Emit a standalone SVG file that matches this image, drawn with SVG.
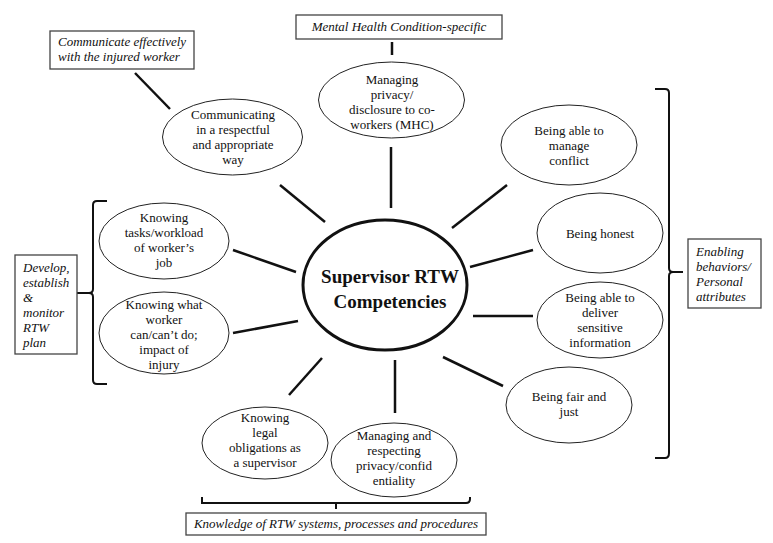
<svg xmlns="http://www.w3.org/2000/svg" width="773" height="543" viewBox="0 0 773 543">
<style>
.bg{fill:#fff}
.el{fill:#fff;stroke:#222;stroke-width:1}
.ctr{fill:#fff;stroke:#111;stroke-width:3}
.box{fill:#fff;stroke:#444;stroke-width:1.3}
.t{font-family:"Liberation Serif","Times New Roman",serif;font-size:13px;fill:#111;text-anchor:middle}
.i{font-family:"Liberation Serif","Times New Roman",serif;font-size:13px;font-style:italic;fill:#111}
.b{font-family:"Liberation Serif","Times New Roman",serif;font-size:19px;font-weight:bold;fill:#111;text-anchor:middle}
.ln{stroke:#111;stroke-width:2.5;fill:none}
.br{stroke:#111;stroke-width:2;fill:none}
</style>
<rect class="bg" width="773" height="543"/>
<g id="connectors">
<line class="ln" x1="392" y1="42" x2="392" y2="55"/>
<line class="ln" x1="391" y1="147" x2="391" y2="208"/>
<line class="ln" x1="135" y1="73" x2="170" y2="109"/>
<line class="ln" x1="280" y1="185" x2="325" y2="222"/>
<line class="ln" x1="507" y1="185" x2="452" y2="228"/>
<line class="ln" x1="470" y1="267" x2="533" y2="250"/>
<line class="ln" x1="473" y1="316" x2="533" y2="316"/>
<line class="ln" x1="443" y1="357" x2="503" y2="386"/>
<line class="ln" x1="233" y1="250" x2="296" y2="272"/>
<line class="ln" x1="233" y1="333" x2="298" y2="321"/>
<line class="ln" x1="289" y1="395" x2="322" y2="358"/>
<line class="ln" x1="395" y1="360" x2="395" y2="413"/>
<path class="br" d="M655,89 H665 Q669,89 669,93 V268 Q669,272 673,272 H683 M669,276 V453 Q669,458 665,458 H655 M673,272 Q669,272 669,276"/>
<path class="br" d="M107,201 H97 Q93,201 93,205 V289 Q93,293 89,293 H77 M93,297 V380 Q93,384 97,384 H107 M89,293 Q93,293 93,297"/>
<path class="br" d="M202,497 V503 H466 Q470,503 470,499 V497 M336,503 V509"/>
</g>
<g id="center">
<ellipse class="ctr" cx="385" cy="285" rx="82" ry="65"/>
<text class="b" x="390" y="283">Supervisor RTW</text>
<text class="b" x="390" y="308">Competencies</text>
</g>
<g id="box-mhc">
<rect class="box" x="296" y="15" width="206" height="24"/>
<text class="i" x="399" y="31" text-anchor="middle">Mental Health Condition-specific</text>
</g>
<g id="box-communicate">
<rect class="box" x="50" y="31" width="144" height="38"/>
<text class="i" x="58" y="46">Communicate effectively</text>
<text class="i" x="58" y="61">with the injured worker</text>
</g>
<g id="box-enabling">
<rect class="box" x="688" y="239" width="73" height="69"/>
<text class="i" x="696" y="256">Enabling</text>
<text class="i" x="696" y="271">behaviors/</text>
<text class="i" x="696" y="286">Personal</text>
<text class="i" x="696" y="301">attributes</text>
</g>
<g id="box-develop">
<rect class="box" x="15" y="255" width="62" height="99"/>
<text class="i" x="23" y="272">Develop,</text>
<text class="i" x="23" y="287">establish</text>
<text class="i" x="23" y="302">&amp;</text>
<text class="i" x="23" y="317">monitor</text>
<text class="i" x="23" y="332">RTW</text>
<text class="i" x="23" y="347">plan</text>
</g>
<g id="box-knowledge">
<rect class="box" x="186" y="513" width="300" height="22"/>
<text class="i" x="336" y="528" text-anchor="middle">Knowledge of RTW systems, processes and procedures</text>
</g>
<g id="node-mhc">
<ellipse class="el" cx="391.5" cy="100" rx="73" ry="38"/>
<text class="t" x="392" y="84">Managing</text>
<text class="t" x="392" y="99">privacy/</text>
<text class="t" x="392" y="114">disclosure to co-</text>
<text class="t" x="392" y="129">workers  (MHC)</text>
</g>
<g id="node-communicating">
<ellipse class="el" cx="232.5" cy="137" rx="70" ry="38"/>
<text class="t" x="233" y="119">Communicating</text>
<text class="t" x="233" y="134">in a respectful</text>
<text class="t" x="233" y="149">and appropriate</text>
<text class="t" x="233" y="164">way</text>
</g>
<g id="node-conflict">
<ellipse class="el" cx="569" cy="145" rx="68" ry="40"/>
<text class="t" x="569" y="135">Being able to</text>
<text class="t" x="569" y="150">manage</text>
<text class="t" x="569" y="165">conflict</text>
</g>
<g id="node-honest">
<ellipse class="el" cx="600" cy="233" rx="63" ry="40"/>
<text class="t" x="600" y="238">Being honest</text>
</g>
<g id="node-sensitive">
<ellipse class="el" cx="600" cy="320" rx="63" ry="38"/>
<text class="t" x="600" y="302">Being able to</text>
<text class="t" x="600" y="317">deliver</text>
<text class="t" x="600" y="332">sensitive</text>
<text class="t" x="600" y="347">information</text>
</g>
<g id="node-fair">
<ellipse class="el" cx="569" cy="405" rx="63" ry="38"/>
<text class="t" x="569" y="401">Being fair and</text>
<text class="t" x="569" y="416">just</text>
</g>
<g id="node-tasks">
<ellipse class="el" cx="164" cy="241" rx="65" ry="38"/>
<text class="t" x="164" y="222">Knowing</text>
<text class="t" x="164" y="237">tasks/workload</text>
<text class="t" x="164" y="252">of worker’s</text>
<text class="t" x="164" y="267">job</text>
</g>
<g id="node-cando">
<ellipse class="el" cx="164" cy="333" rx="65" ry="41"/>
<text class="t" x="164" y="309">Knowing what</text>
<text class="t" x="164" y="324">worker</text>
<text class="t" x="164" y="339">can/can’t do;</text>
<text class="t" x="164" y="354">impact of</text>
<text class="t" x="164" y="369">injury</text>
</g>
<g id="node-legal">
<ellipse class="el" cx="265" cy="443" rx="63" ry="36"/>
<text class="t" x="265" y="422">Knowing</text>
<text class="t" x="265" y="437">legal</text>
<text class="t" x="265" y="452">obligations as</text>
<text class="t" x="265" y="467">a supervisor</text>
</g>
<g id="node-privacy">
<ellipse class="el" cx="394" cy="460" rx="63" ry="37"/>
<text class="t" x="394" y="440">Managing and</text>
<text class="t" x="394" y="455">respecting</text>
<text class="t" x="394" y="470">privacy/confid</text>
<text class="t" x="394" y="485">entiality</text>
</g>
</svg>
